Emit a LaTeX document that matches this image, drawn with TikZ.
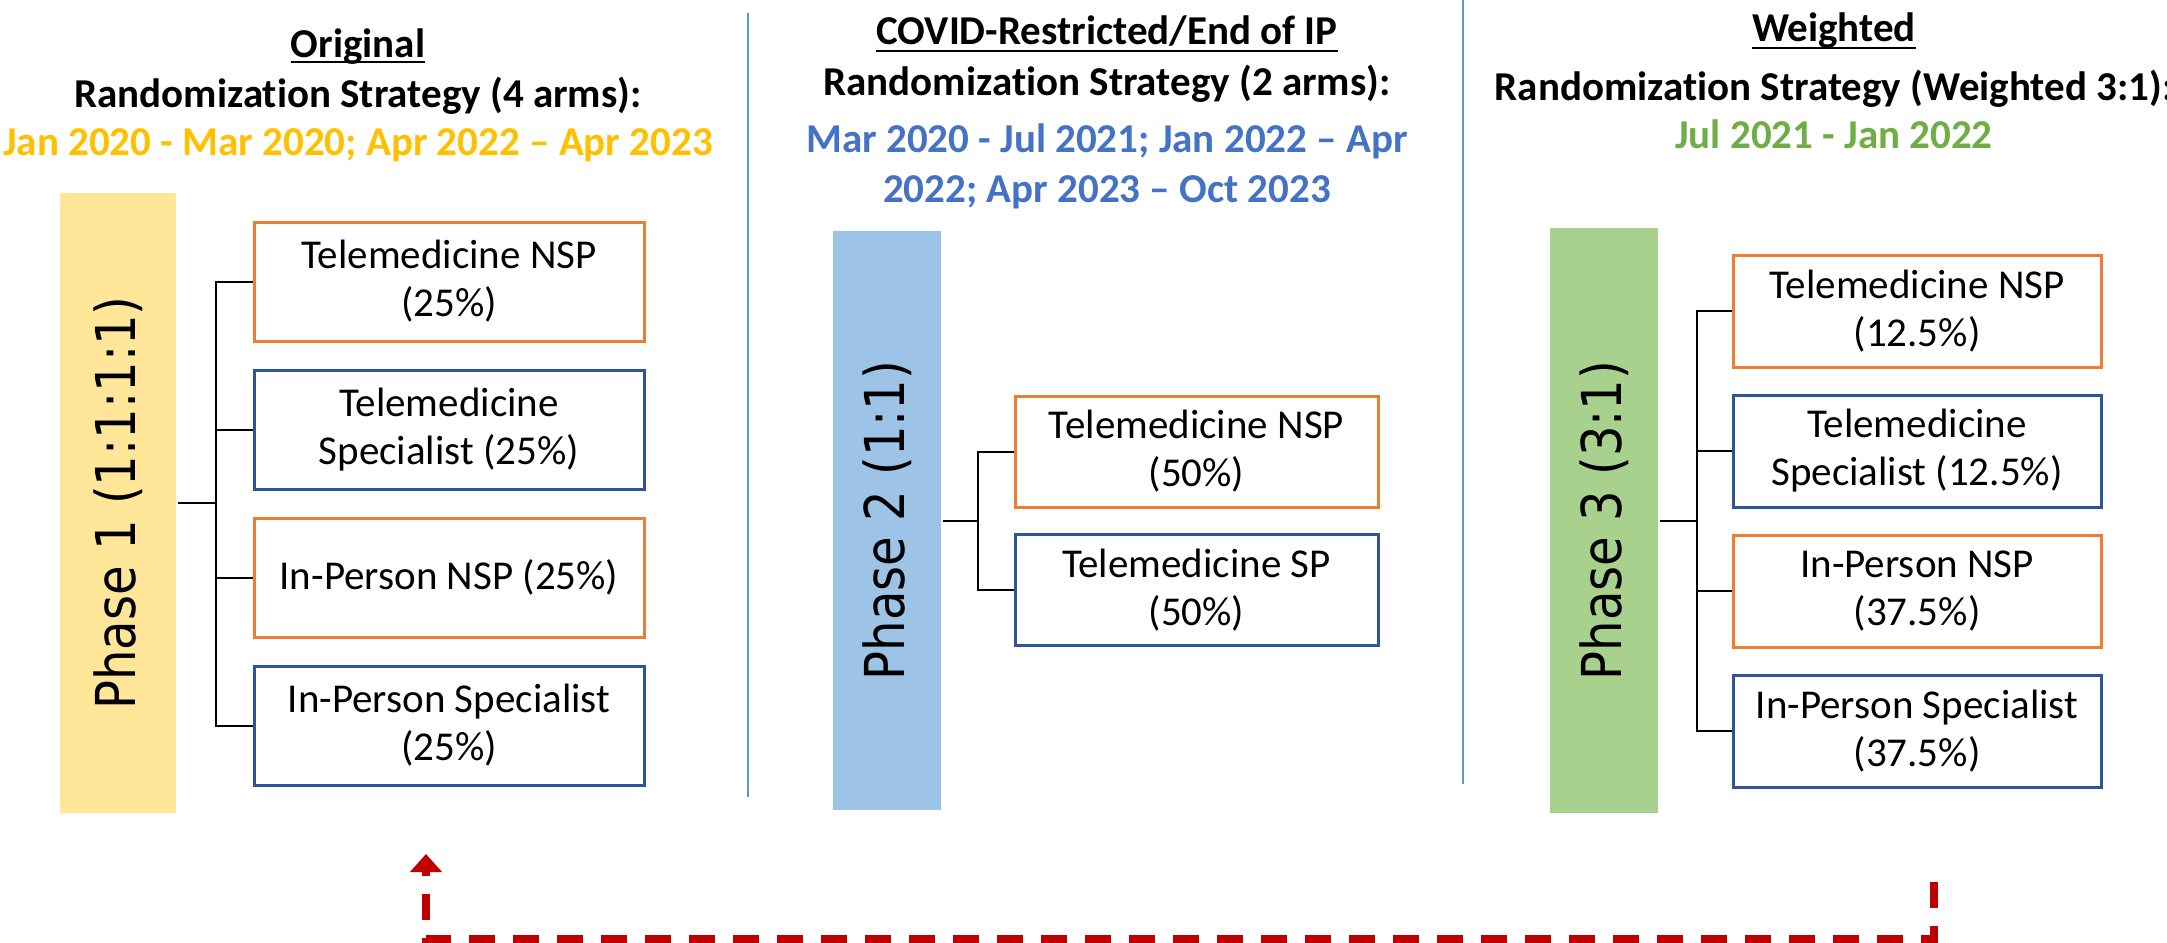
\documentclass[tikz,border=0pt]{standalone}
\usepackage{fontspec}
\setmainfont[Ligatures={NoCommon}]{Carlito}
\newfontfamily\phasefont[FakeStretch=0.875]{DejaVu Sans}
\usetikzlibrary{arrows.meta}
\definecolor{dgold}{HTML}{FFC000}
\definecolor{dblue}{HTML}{4472C4}
\definecolor{dgreen}{HTML}{70AD47}
\definecolor{barA}{HTML}{FFE699}
\definecolor{barB}{HTML}{9DC3E6}
\definecolor{barC}{HTML}{A9D18E}
\definecolor{boxorange}{HTML}{ED7D31}
\definecolor{boxblue}{HTML}{2F5597}
\definecolor{divblue}{HTML}{5B9BD5}
\definecolor{retred}{HTML}{C00000}
\begin{document}
\begin{tikzpicture}[x=1pt,y=-1pt,
  hdr/.style={anchor=base, inner sep=0pt, font=\fontsize{41pt}{48pt}\selectfont\bfseries},
  uline/.style={line width=2pt, black},
  phasebar/.style={rotate=90, inner sep=0pt, font=\phasefont\fontsize{55pt}{60pt}\selectfont},
  armbox/.style={draw, line width=3pt, fill=white, align=center, inner sep=0pt,
    font=\fontsize{41pt}{48pt}\selectfont},
  nspbox/.style={armbox, draw=boxorange},
  spbox/.style={armbox, draw=boxblue},
  colA/.style={minimum width=390pt, minimum height=119pt},
  colB/.style={minimum width=363pt, minimum height=111pt},
  colC/.style={minimum width=368pt, minimum height=112pt},
  tree/.style={line width=2pt, black},
  divider/.style={line width=2.5pt, divblue},
  ret/.style={line width=8pt, retred, dash pattern=on 26pt off 18pt,
    -{Triangle[width=31pt,length=18pt]}}
]
\fill[white] (0,0) rectangle (2167,942);
\useasboundingbox (0,0) rectangle (2167,942);

% dividers
\coordinate (d1t) at (748,13);
\coordinate (d1b) at (748,797);
\coordinate (d2t) at (1463,0);
\coordinate (d2b) at (1463,784);
\draw[divider] (d1t) -- (d1b);
\draw[divider] (d2t) -- (d2b);

% headers left
\node[hdr] (h1a) at (358,57) {Original};
\node[hdr] (h1b) at (358,107) {Randomization Strategy (4 arms):};
\node[hdr, text=dgold] (h1c) at (358,155) {Jan 2020 - Mar 2020; Apr 2022 – Apr 2023};
\draw[uline] ([yshift=-5pt]h1a.base west) -- ([yshift=-5pt]h1a.base east);

% headers middle
\node[hdr] (h2a) at (1107,45) {COVID-Restricted/End of IP};
\node[hdr] (h2b) at (1107,95) {Randomization Strategy (2 arms):};
\node[hdr, text=dblue] (h2c) at (1107,152) {Mar 2020 - Jul 2021; Jan 2022 – Apr};
\node[hdr, text=dblue] (h2d) at (1107,202) {2022; Apr 2023 – Oct 2023};
\draw[uline] ([yshift=-6pt]h2a.base west) -- ([yshift=-6pt]h2a.base east);

% headers right
\node[hdr] (h3a) at (1834,42) {Weighted};
\node[hdr] (h3b) at (1834,100) {Randomization Strategy (Weighted 3:1):};
\node[hdr, text=dgreen] (h3c) at (1834,148) {Jul 2021 - Jan 2022};
\draw[uline] ([yshift=-6pt]h3a.base west) -- ([yshift=-6pt]h3a.base east);

% phase bars
\node[phasebar, fill=barA, minimum width=620pt, minimum height=116pt] (p1) at (118,503) {Phase 1 (1:1:1:1)};
\node[phasebar, fill=barB, minimum width=579pt, minimum height=108pt] (p2) at (887,520.5) {Phase 2 (1:1)};
\node[phasebar, fill=barC, minimum width=585pt, minimum height=108pt] (p3) at (1604,520.5) {Phase 3 (3:1)};

% arm boxes column 1
\node[nspbox, colA] (b11) at (449,281.5) {Telemedicine NSP\\(25\%)};
\node[spbox, colA] (b12) at (449,429.5) {Telemedicine\\Specialist (25\%)};
\node[nspbox, colA] (b13) at (449,577.5) {In-Person NSP (25\%)};
\node[spbox, colA] (b14) at (449,725.5) {In-Person Specialist\\(25\%)};

% column 2
\node[nspbox, colB] (b21) at (1196.5,451.5) {Telemedicine NSP\\(50\%)};
\node[spbox, colB] (b22) at (1196.5,590) {Telemedicine SP\\(50\%)};

% column 3
\node[nspbox, colC] (b31) at (1917,311) {Telemedicine NSP\\(12.5\%)};
\node[spbox, colC] (b32) at (1917,451) {Telemedicine\\Specialist (12.5\%)};
\node[nspbox, colC] (b33) at (1917,591) {In-Person NSP\\(37.5\%)};
\node[spbox, colC] (b34) at (1917,731) {In-Person Specialist\\(37.5\%)};

% trees
\coordinate (t1) at (216,503);
\coordinate (t2) at (978,520.5);
\coordinate (t3) at (1697,520.5);
\draw[tree] ([xshift=2pt]p1.south) -- (t1);
\draw[tree] (b11.west) -| (t1) |- (b14.west);
\draw[tree] (b12.west) -- (b12.west -| t1);
\draw[tree] (b13.west) -- (b13.west -| t1);

\draw[tree] ([xshift=2pt]p2.south) -- (t2);
\draw[tree] (b21.west) -| (t2) |- (b22.west);

\draw[tree] ([xshift=2pt]p3.south) -- (t3);
\draw[tree] (b31.west) -| (t3) |- (b34.west);
\draw[tree] (b32.west) -- (b32.west -| t3);
\draw[tree] (b33.west) -- (b33.west -| t3);

% return arrow
\coordinate (arrS) at (1934,882);
\coordinate (arrB) at (0,939);
\coordinate (arrE) at (426,854);
\draw[ret] (arrS) -- (arrS |- arrB) -| (arrE);
\end{tikzpicture}
\end{document}
